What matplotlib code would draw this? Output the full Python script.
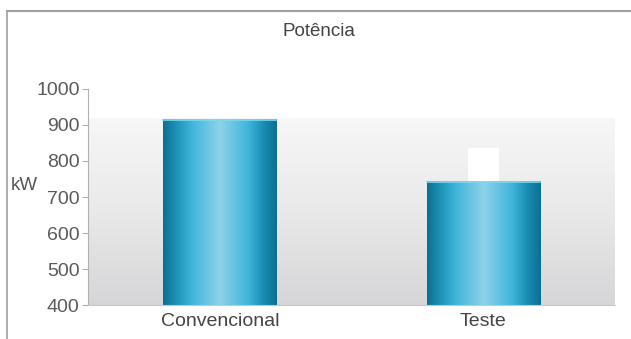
import numpy as np
import matplotlib
matplotlib.use("Agg")
import matplotlib.pyplot as plt
from matplotlib.colors import LinearSegmentedColormap
from matplotlib.lines import Line2D

categories = ["Convencional", "Teste"]
values = [915, 742]
yticks = [400, 500, 600, 700, 800, 900, 1000]
title = "Potência"
ylabel = "kW"

plt.rcParams['font.family'] = ['Liberation Sans', 'DejaVu Sans']

fig = plt.figure(figsize=(6.31, 3.39), dpi=100)
ax = fig.add_axes([88/631, 1-305/339, (615-88)/631, (305-89)/339])

ax.set_xlim(-0.5, 1.5)
ax.set_ylim(400, 1000)

# background gradient (white at top, light grey at bottom)
bg = LinearSegmentedColormap.from_list("bg", ["#d6d6d8", "#e9e9ea", "#f7f7f7"])
grad = np.linspace(0, 1, 256).reshape(-1, 1)
ax.imshow(grad, cmap=bg, aspect="auto", origin="lower",
          extent=(-0.5, 1.5, 400, 918), zorder=0)

# bars with horizontal gradient
barcm = LinearSegmentedColormap.from_list(
    "bar", [(0.0, "#0b6f93"), (0.12, "#1f93b8"), (0.25, "#3fb5da"),
            (0.5, "#8fd2ea"), (0.75, "#3fb5da"), (0.88, "#1a8db4"),
            (1.0, "#0b6f93")])
hgrad = np.linspace(0, 1, 256).reshape(1, -1)
width = 0.43
bars = ax.bar(range(len(categories)), values, width=width, color="none",
              zorder=2)
for b in bars:
    x0, x1 = b.get_x(), b.get_x() + b.get_width()
    ax.imshow(hgrad, cmap=barcm, aspect="auto",
              extent=(x0, x1, 400, b.get_height()), zorder=2)
    ax.plot([x0, x1], [b.get_height()]*2, color="#7fd8ef", lw=1.2, zorder=3)

# white label box above second bar
ax.annotate("      \n      ", xy=(1, values[1]), xytext=(0, 1.5),
            textcoords="offset points", ha="center", va="bottom", fontsize=12,
            linespacing=1.0,
            bbox=dict(boxstyle="square,pad=0.1", fc="white", ec="none"),
            zorder=4)

ax.set_xlim(-0.5, 1.5)
ax.set_ylim(400, 1000)

for s in ["top", "right"]:
    ax.spines[s].set_visible(False)
ax.spines["left"].set_color("#b0b0b0")
ax.spines["bottom"].set_color("#c8c8c8")
ax.set_yticks(yticks)
ax.tick_params(axis="y", colors="#b0b0b0", labelcolor="#5a5a5a", length=4,
               labelsize=14, pad=2)
ax.set_xticks(range(len(categories)))
ax.set_xticklabels(categories)
ax.tick_params(axis="x", length=0, labelsize=14, labelcolor="#444444", pad=6)

fig.text(319/631, 1-32/339, title, ha="center", va="center", fontsize=13.5,
         color="#444444")
fig.text(24/631, 1-186/339, ylabel, ha="center", va="center", fontsize=13.5,
         color="#555555")

# outer border lines
fig.add_artist(Line2D([7/631, 1], [1-11/339, 1-11/339], color="#a0a0a0", lw=1.5,
                      transform=fig.transFigure))
fig.add_artist(Line2D([7/631, 7/631], [0, 1-11/339], color="#a0a0a0", lw=1.2,
                      transform=fig.transFigure))

fig.savefig("out.png", dpi=100)
